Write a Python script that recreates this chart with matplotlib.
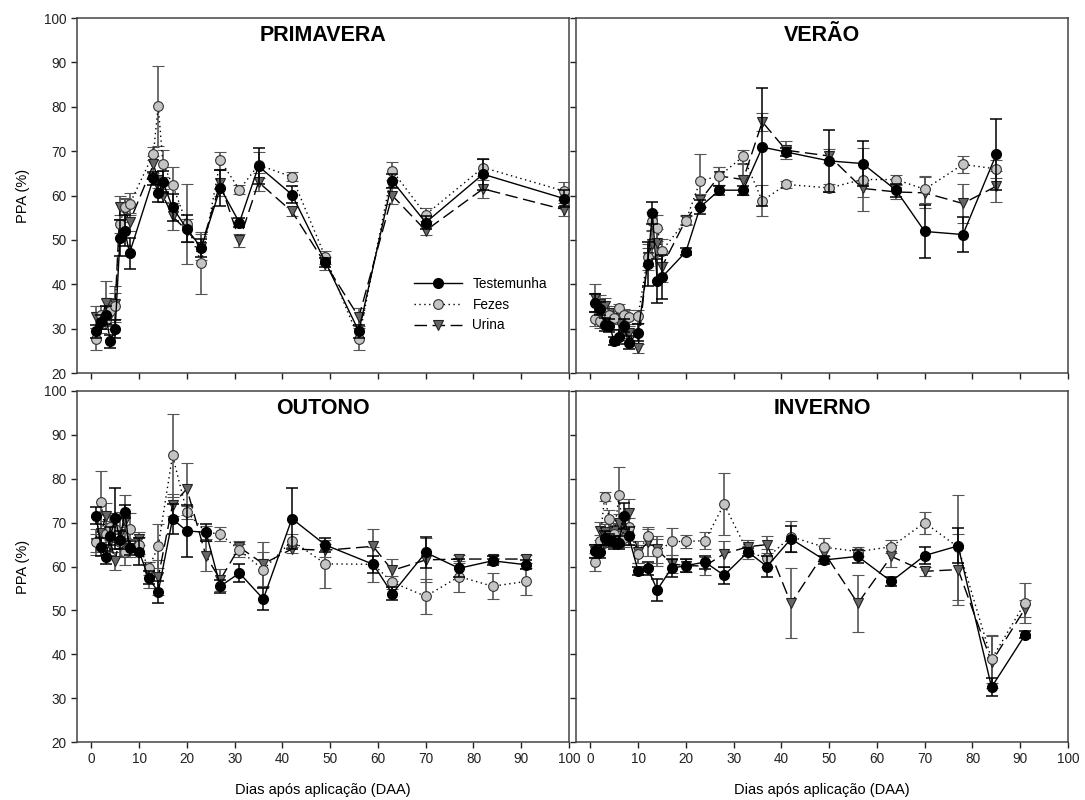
import matplotlib
matplotlib.use("Agg")
import matplotlib.pyplot as plt
from matplotlib.lines import Line2D

plt.rcParams['font.family'] = ['Liberation Sans', 'DejaVu Sans']

# PRIMAVERA
dias_pri = [1, 2, 3, 4, 5, 6, 7, 8, 13, 14, 15, 17, 20, 23, 27, 31, 35, 42, 49, 56, 63, 70, 82, 99]
test_pri = [29.4, 31.5, 33.0, 27.1, 30.0, 50.4, 52.1, 47.0, 63.9, 60.6, 63.0, 57.3, 52.5, 48.2, 61.7, 53.9, 66.6, 60.2, 45.0, 29.4, 63.3, 53.9, 64.8, 59.3]
test_pri_e = [1.5, 1.5, 2, 1.5, 2, 4, 3.5, 3.5, 1.5, 2, 2.5, 3, 3, 2, 4, 1, 4, 2, 1, 1.5, 1.5, 1.5, 3.5, 2]
fez_pri = [27.7, 33.0, 32.0, 34.0, 35.1, 53.6, 57.5, 58.0, 69.4, 80.2, 67.2, 62.4, 53.6, 44.8, 67.9, 61.3, 66.9, 64.2, 46.1, 27.7, 65.6, 55.7, 66.3, 61.0]
fez_pri_e = [2.5, 2, 2, 3, 3, 2, 2, 2.5, 1.5, 9, 3, 4, 9, 7, 2, 1, 3, 1, 1.5, 2.5, 2, 1.5, 2, 2]
uri_pri = [32.6, 31.0, 35.8, 33.0, 35.6, 57.3, 56.6, 54.0, 67.0, 63.6, 60.0, 55.3, 52.1, 48.4, 62.8, 49.9, 63.0, 56.4, 44.6, 32.6, 60.0, 52.1, 61.5, 56.8]
uri_pri_e = [2.5, 2, 5, 2.5, 4, 2.5, 2.5, 2, 2, 2, 1.5, 3, 2.5, 3, 3, 1.5, 2, 1, 1.5, 2, 2, 1, 2, 1.5]

# VERAO
dias_ver = [1, 2, 3, 4, 5, 6, 7, 8, 10, 12, 13, 14, 15, 20, 23, 27, 32, 36, 41, 50, 57, 64, 70, 78, 85]
test_ver = [35.8, 34.5, 30.9, 30.7, 27.2, 28.1, 30.7, 26.8, 29.1, 44.6, 56.0, 40.7, 41.6, 47.3, 57.4, 61.2, 61.2, 70.9, 69.8, 67.8, 67.2, 61.2, 51.9, 51.2, 69.3]
test_ver_e = [2, 1.5, 1.5, 1.5, 1, 1.5, 1.5, 1.5, 2, 5, 2.5, 5, 5, 0.8, 1.5, 1, 1, 13.3, 1, 7, 5, 1.5, 6, 4, 8]
fez_ver = [32.2, 31.7, 33.5, 33.0, 32.5, 34.6, 33.0, 32.6, 32.8, 46.1, 54.3, 52.7, 47.6, 54.3, 63.3, 64.4, 68.8, 58.8, 62.5, 61.7, 63.6, 63.6, 61.4, 67.0, 66.0]
fez_ver_e = [1.5, 1.5, 1.5, 1.5, 1.5, 1, 1.5, 1.5, 1.5, 2, 2, 3, 2.5, 1, 6, 2, 1.5, 3.5, 0.8, 1, 7, 1, 3, 2, 2]
uri_ver = [37.0, 35.5, 35.0, 33.5, 32.5, 31.5, 29.5, 29.0, 25.6, 46.1, 49.1, 49.4, 44.0, 54.5, 58.9, 64.4, 63.6, 76.6, 70.2, 68.9, 61.6, 60.8, 60.6, 58.2, 62.1]
uri_ver_e = [3, 2, 2, 1.5, 1.5, 1.5, 1.5, 1.5, 1, 3, 3, 3, 3.5, 1, 1.5, 2, 3.5, 2, 2, 1.5, 2, 1.5, 3.5, 4.5, 3.5]

# OUTONO
dias_out = [1, 2, 3, 4, 5, 6, 7, 8, 10, 12, 14, 17, 20, 24, 27, 31, 36, 42, 49, 59, 63, 70, 77, 84, 91]
test_out = [71.6, 64.4, 62.1, 67.0, 71.0, 66.0, 72.5, 64.2, 63.4, 57.4, 54.2, 70.8, 68.1, 67.8, 55.5, 58.5, 52.6, 70.9, 64.9, 60.5, 53.8, 63.2, 59.6, 61.3, 60.4]
test_out_e = [2, 2, 1.5, 2, 7, 2, 1.5, 1.5, 3, 1.5, 2.5, 3.5, 6, 2, 1.5, 2, 2.5, 7, 1.5, 2, 1.5, 3.5, 2, 1, 1]
fez_out = [65.6, 74.8, 67.4, 69.1, 68.6, 65.6, 63.4, 68.6, 64.8, 59.6, 64.6, 85.3, 72.4, 67.8, 67.4, 63.7, 59.3, 65.9, 60.6, 60.5, 56.4, 53.2, 57.7, 55.5, 56.6]
fez_out_e = [3, 7, 3, 3, 3, 3.5, 3, 3.5, 2, 1.5, 5, 9.5, 1.5, 1.5, 1.5, 1.5, 4, 1.5, 5.5, 4, 1.5, 4, 3.5, 3, 3]
uri_out = [65.3, 67.6, 71.4, 65.7, 61.2, 67.4, 70.3, 64.2, 66.3, 58.0, 57.5, 74.1, 77.7, 62.4, 57.0, 64.4, 60.6, 64.0, 63.7, 64.6, 59.1, 61.5, 61.7, 61.7, 61.7]
uri_out_e = [2, 2, 3, 3, 2, 5, 6, 2, 1.5, 3, 4, 2.5, 6, 3.5, 2.5, 1.5, 5, 1, 1.5, 4, 2.5, 5, 1, 1, 1]

# INVERNO
dias_inv = [1, 2, 3, 4, 5, 6, 7, 8, 10, 12, 14, 17, 20, 24, 28, 33, 37, 42, 49, 56, 63, 70, 77, 84, 91]
test_inv = [63.5, 63.4, 66.5, 66.0, 65.5, 65.4, 71.5, 66.9, 59.0, 59.6, 54.7, 59.6, 60.2, 61.0, 58.0, 63.3, 60.0, 66.3, 61.5, 62.3, 56.6, 62.5, 64.7, 32.5, 44.4]
test_inv_e = [1.5, 1.5, 1.5, 1.5, 1.5, 1.5, 3, 2, 1, 1.5, 2.5, 2, 1.5, 1.5, 2, 1, 2.5, 3, 1, 1.5, 1, 2, 4, 2, 0.8]
fez_inv = [61.0, 65.7, 75.9, 70.8, 67.5, 76.2, 66.5, 69.1, 62.9, 67.0, 63.2, 65.7, 65.7, 65.9, 74.2, 63.2, 62.0, 66.8, 64.4, 63.4, 64.5, 70.0, 64.4, 38.9, 51.7]
fez_inv_e = [2, 1.5, 1, 2, 2, 6.5, 2, 2, 2, 2, 3, 3, 1.5, 2, 7, 1.5, 2, 3.5, 2, 1, 1.5, 2.5, 12, 5.5, 4.5]
uri_inv = [63.6, 68.1, 67.8, 67.0, 68.0, 70.0, 67.8, 72.3, 63.2, 65.5, 63.9, 60.6, 60.2, 60.1, 62.9, 64.5, 65.0, 51.6, 63.1, 51.6, 62.3, 58.9, 59.3, 38.2, 50.4]
uri_inv_e = [1.5, 2, 2, 2, 2, 2, 3, 3, 2.5, 3, 3, 2, 1.5, 2, 3, 1.5, 2, 8, 1.5, 6.5, 2.5, 1, 8, 6, 2]

estacoes = [
    ("PRIMAVERA", dias_pri, test_pri, test_pri_e, fez_pri, fez_pri_e, uri_pri, uri_pri_e),
    ("VERÃO", dias_ver, test_ver, test_ver_e, fez_ver, fez_ver_e, uri_ver, uri_ver_e),
    ("OUTONO", dias_out, test_out, test_out_e, fez_out, fez_out_e, uri_out, uri_out_e),
    ("INVERNO", dias_inv, test_inv, test_inv_e, fez_inv, fez_inv_e, uri_inv, uri_inv_e),
]

# estilos das series
st_test = dict(color='black', ls='-', lw=1, marker='o', ms=7, mfc='black', mec='black')
st_fez = dict(color='black', ls=(0, (1, 2.5)), lw=1, marker='o', ms=7, mfc='#c4c4c4', mec='#333333', mew=0.8)
st_uri = dict(color='black', ls=(0, (9, 4)), lw=1, marker='v', ms=7.5, mfc='#666666', mec='#222222', mew=0.8)

W, H = 1085, 800
fig = plt.figure(figsize=(W / 100, H / 100), dpi=100)
pos = [
    [77 / W, 1 - 373 / H, 492 / W, 355 / H],
    [576 / W, 1 - 373 / H, 492 / W, 355 / H],
    [77 / W, 1 - 742 / H, 492 / W, 351 / H],
    [576 / W, 1 - 742 / H, 492 / W, 351 / H],
]

for i, (nome, d, t, te, f, fe, u, ue) in enumerate(estacoes):
    ax = fig.add_axes(pos[i])
    ax.errorbar(d, u, yerr=ue, ecolor='#555555', elinewidth=1.2, capsize=4,
                capthick=1.2, zorder=3, **st_uri)
    ax.errorbar(d, f, yerr=fe, ecolor='#555555', elinewidth=1.2, capsize=4,
                capthick=1.2, zorder=3, **st_fez)
    ax.errorbar(d, t, yerr=te, ecolor='black', elinewidth=1.1, capsize=4,
                capthick=1.1, zorder=4, **st_test)
    ax.set_xlim(-3, 100)
    ax.set_ylim(20, 100)
    ax.set_xticks(range(0, 101, 10))
    ax.set_yticks(range(20, 101, 10))
    ax.tick_params(direction='out', length=4, width=1, labelsize=9.8, colors='#222222')
    for s in ax.spines.values():
        s.set_color('#444444')
        s.set_linewidth(1.1)
    ax.text(0.5, 0.95, nome, transform=ax.transAxes, ha='center', va='center',
            fontsize=15.5, fontweight='bold')
    if i % 2 == 0:
        ax.set_ylabel('PPA (%)', fontsize=10.5, labelpad=10)
    else:
        ax.tick_params(labelleft=False)
    if i < 2:
        ax.tick_params(labelbottom=False)
    else:
        ax.set_xlabel('Dias após aplicação (DAA)', fontsize=10.5, labelpad=12)
    if i == 0:
        handles = [Line2D([], [], **st_test), Line2D([], [], **st_fez), Line2D([], [], **st_uri)]
        ax.legend(handles, ['Testemunha', 'Fezes', 'Urina'], loc='lower left',
                  bbox_to_anchor=(0.66, 0.08), frameon=False, fontsize=9.8,
                  handlelength=3.5, labelspacing=0.5)

fig.savefig('out.png', dpi=100)
